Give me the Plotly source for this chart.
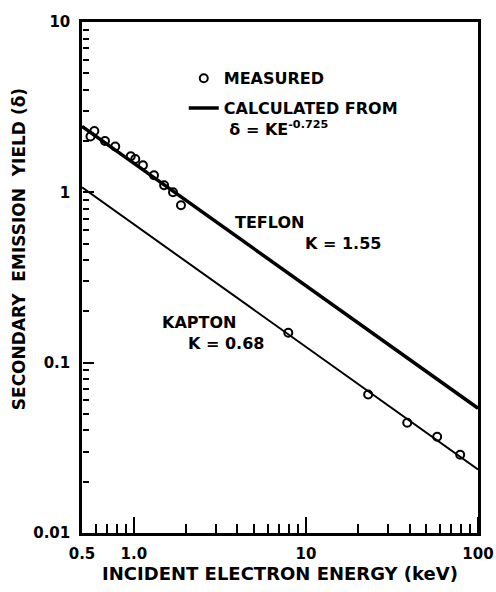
import plotly.graph_objects as go

# ---- data ----
teflon_E = [0.56, 0.59, 0.68, 0.78, 0.96, 1.02, 1.13, 1.31, 1.50, 1.69, 1.88]
teflon_d = [2.13, 2.29, 2.00, 1.86, 1.63, 1.57, 1.44, 1.26, 1.10, 1.00, 0.84]

kapton_E = [7.9, 23.0, 38.8, 57.9, 78.8]
kapton_d = [0.150, 0.065, 0.0444, 0.0367, 0.0288]

line_E = [0.5, 100]
teflon_line = [2.44, 0.054]
kapton_line = [1.07, 0.0236]

x_tickvals = [0.5, 1, 10, 100]
x_ticktext = ["0.5", "1.0", "10", "100"]
x_major_marks = [1, 10, 100]
x_minor = [0.6, 0.7, 0.8, 0.9, 2, 3, 4, 5, 6, 7, 8, 9, 20, 30, 40, 50, 60, 70, 80, 90]
y_tickvals = [0.01, 0.1, 1, 10]
y_ticktext = ["0.01", "0.1", "1", "10"]
y_major_marks = [0.1, 1]
y_minor = [0.02, 0.03, 0.04, 0.05, 0.06, 0.07, 0.08, 0.09,
           0.2, 0.3, 0.4, 0.5, 0.6, 0.7, 0.8, 0.9,
           2, 3, 4, 5, 6, 7, 8, 9]

FONT = "DejaVu Sans"
XR = [-0.30103, 2]
YR = [-2, 1]

fig = go.Figure()

fig.add_trace(go.Scatter(
    x=teflon_E, y=teflon_d, mode="markers", name="MEASURED", legendgroup="m",
    marker=dict(symbol="circle-open", size=8, color="black", line=dict(width=2)),
    showlegend=True))
fig.add_trace(go.Scatter(
    x=kapton_E, y=kapton_d, mode="markers", name="MEASURED", legendgroup="m",
    marker=dict(symbol="circle-open", size=8, color="black", line=dict(width=2)),
    showlegend=False))
fig.add_trace(go.Scatter(
    x=line_E, y=teflon_line, mode="lines", legendgroup="c",
    name="CALCULATED FROM<br> δ = KE<sup>-0.725</sup>",
    line=dict(color="black", width=3.5), showlegend=True))
fig.add_trace(go.Scatter(
    x=line_E, y=kapton_line, mode="lines", name="KAPTON", legendgroup="c",
    line=dict(color="black", width=2), showlegend=False))
# empty traces that activate the frame and the tick-mark axes
for xa, ya in [("x2", "y2"), ("x3", "y"), ("x4", "y"), ("x", "y3"), ("x", "y4")]:
    fig.add_trace(go.Scatter(x=[], y=[], xaxis=xa, yaxis=ya, showlegend=False))

bold = dict(family=FONT, size=16, color="black", weight="bold")

def ann(text, x, y, **kw):
    d = dict(text=text, x=x, y=y, xref="paper", yref="paper", showarrow=False,
             xanchor="left", yanchor="middle", font=bold)
    d.update(kw)
    fig.add_annotation(**d)

ann("TEFLON", 0.381, 0.607)
ann("K = 1.55", 0.558, 0.566)
ann("KAPTON", 0.198, 0.411)
ann("K = 0.68", 0.263, 0.370)
ann("SECONDARY  EMISSION  YIELD (δ)", -0.157, 0.555, xanchor="center",
    textangle=-90, font=dict(family=FONT, size=17, color="black", weight="bold"))

tickfont = dict(family=FONT, size=15, color="black", weight="bold")
noaxis = dict(showticklabels=False, showline=False, showgrid=False, zeroline=False)

fig.update_layout(
    width=496, height=592,
    margin=dict(l=82, r=18, t=22, b=59),
    paper_bgcolor="white", plot_bgcolor="white",
    font=dict(family=FONT, size=15, color="black", weight="bold"),
    legend=dict(x=0.257, y=0.923, xanchor="left", yanchor="top",
                bgcolor="rgba(0,0,0,0)", valign="top", tracegroupgap=6,
                font=dict(family=FONT, size=16, color="black", weight="bold")),
    xaxis=dict(
        type="log", range=XR, automargin=False,
        tickmode="array", tickvals=x_tickvals, ticktext=x_ticktext, ticks="",
        showgrid=False, zeroline=False,
        showline=True, linewidth=2.5, linecolor="black",
        ticklabelstandoff=5, ticklabeloverflow="allow",
        tickfont=tickfont,
        title=dict(text="INCIDENT ELECTRON ENERGY (keV)", standoff=5,
                   font=dict(family=FONT, size=18, color="black", weight="bold")),
    ),
    yaxis=dict(
        type="log", range=YR, automargin=False,
        tickmode="array", tickvals=y_tickvals, ticktext=y_ticktext, ticks="",
        showgrid=False, zeroline=False,
        showline=True, linewidth=2.5, linecolor="black",
        ticklabelstandoff=6, ticklabeloverflow="allow",
        tickfont=tickfont,
    ),
    # frame: top and right lines
    xaxis2=dict(type="log", range=XR, overlaying="x", side="top", anchor="y2",
                showline=True, linewidth=2.5, linecolor="black",
                showticklabels=False, ticks="", showgrid=False, zeroline=False),
    yaxis2=dict(type="log", range=YR, overlaying="y", side="right", anchor="x2",
                showline=True, linewidth=2.5, linecolor="black",
                showticklabels=False, ticks="", showgrid=False, zeroline=False),
    # tick marks pointing into the plot from the bottom edge
    xaxis3=dict(type="log", range=XR, overlaying="x", side="top",
                anchor="free", position=0,
                tickmode="array", tickvals=x_major_marks,
                ticks="outside", ticklen=16, tickwidth=2, tickcolor="black", **noaxis),
    xaxis4=dict(type="log", range=XR, overlaying="x", side="top",
                anchor="free", position=0,
                tickmode="array", tickvals=x_minor,
                ticks="outside", ticklen=9, tickwidth=2, tickcolor="black", **noaxis),
    # tick marks pointing into the plot from the left edge
    yaxis3=dict(type="log", range=YR, overlaying="y", side="right",
                anchor="free", position=0,
                tickmode="array", tickvals=y_major_marks,
                ticks="outside", ticklen=11, tickwidth=2, tickcolor="black", **noaxis),
    yaxis4=dict(type="log", range=YR, overlaying="y", side="right",
                anchor="free", position=0,
                tickmode="array", tickvals=y_minor,
                ticks="outside", ticklen=6, tickwidth=2, tickcolor="black", **noaxis),
)

fig.write_html("out.html", config={"displayModeBar": False},
               post_script="document.body.style.margin='0';")
